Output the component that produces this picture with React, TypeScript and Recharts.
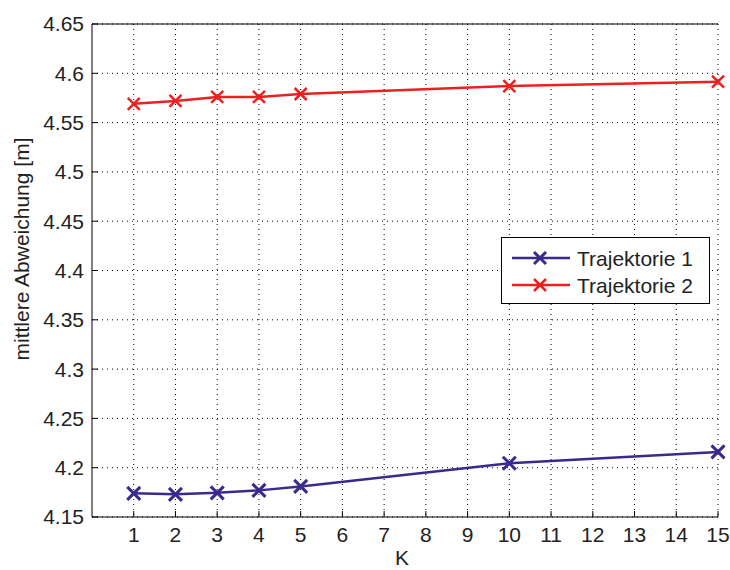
import { LineChart, Line, XAxis, YAxis, CartesianGrid } from 'recharts';

const kValues = [1, 2, 3, 4, 5, 10, 15];
const trajektorie1 = [4.174, 4.173, 4.1745, 4.177, 4.181, 4.2045, 4.216];
const trajektorie2 = [4.569, 4.572, 4.576, 4.576, 4.579, 4.587, 4.5915];
const xTicks = [1, 2, 3, 4, 5, 6, 7, 8, 9, 10, 11, 12, 13, 14, 15];
const yTicks = [4.15, 4.2, 4.25, 4.3, 4.35, 4.4, 4.45, 4.5, 4.55, 4.6, 4.65];
const seriesNames = ['Trajektorie 1', 'Trajektorie 2'];

const BLUE = '#3a2a8e';
const RED = '#ec2020';
const FONT = '"Liberation Sans", Arial, sans-serif';
const TEXT = '#222';

const data = kValues.map((k, i) => ({ k, t1: trajektorie1[i], t2: trajektorie2[i] }));

const Cross = (color: string, s: number, w: number) => (props: any) => {
  const { cx, cy, index } = props;
  if (cx == null || cy == null) return null;
  return (
    <g key={`c-${index}`}>
      <line x1={cx - s} y1={cy - s} x2={cx + s} y2={cy + s} stroke={color} strokeWidth={w} />
      <line x1={cx - s} y1={cy + s} x2={cx + s} y2={cy - s} stroke={color} strokeWidth={w} />
    </g>
  );
};

// legend drawn as an overlay, like matlab's box inside the axes
const LegendBox = () => {
  const colors = [BLUE, RED];
  return (
    <svg width={209} height={67} style={{ position: 'absolute', left: 501, top: 237 }}>
      <rect x={0.5} y={0.5} width={208} height={66} fill="#fff" stroke="#000" />
      {seriesNames.map((name, i) => {
        const cy = 21 + i * 27;
        return (
          <g key={name}>
            <line x1={11} y1={cy} x2={69} y2={cy} stroke={colors[i]} strokeWidth={2.5} />
            <line x1={33} y1={cy - 6} x2={45} y2={cy + 6} stroke={colors[i]} strokeWidth={i === 0 ? 3 : 2.5} />
            <line x1={33} y1={cy + 6} x2={45} y2={cy - 6} stroke={colors[i]} strokeWidth={i === 0 ? 3 : 2.5} />
            <text x={76} y={cy} dominantBaseline="central" fontFamily={FONT} fontSize={21} fill={TEXT}>{name}</text>
          </g>
        );
      })}
    </svg>
  );
};

export default function App() {
  const tickStyle = { fontFamily: FONT, fontSize: 21, fill: TEXT };
  return (
    <div style={{ position: 'absolute', left: 0, top: 0, width: 730, height: 570, background: '#fff' }}>
      <LineChart width={730} height={570} data={data} margin={{ top: 0, right: 12, left: 0, bottom: 0 }}>
        <CartesianGrid stroke="#000" strokeDasharray="1 4" horizontalValues={yTicks} verticalValues={xTicks} />
        <XAxis
          dataKey="k"
          type="number"
          domain={[0, 15]}
          ticks={xTicks}
          interval={0}
          height={53}
          tickSize={-6}
          tickMargin={16}
          stroke="#000"
          tick={tickStyle}
          label={{
            content: () => (
              <text x={402} y={565} textAnchor="middle" fontFamily={FONT} fontSize={21} fill={TEXT}>K</text>
            ),
          }}
        />
        <XAxis xAxisId="top" orientation="top" type="number" dataKey="k" domain={[0, 15]} ticks={xTicks} height={24} tickSize={-6} tick={false} stroke="#000" />
        <YAxis
          type="number"
          domain={[4.15, 4.65]}
          ticks={yTicks}
          interval={0}
          width={92}
          tickSize={-6}
          tickMargin={14}
          stroke="#000"
          tick={tickStyle}
          tickFormatter={(v: number) => String(+v.toFixed(2))}
          label={{
            content: () => (
              <text x={21} y={249} transform="rotate(-90 21 249)" textAnchor="middle" dominantBaseline="central" fontFamily={FONT} fontSize={21} fill={TEXT}>
                mittlere Abweichung [m]
              </text>
            ),
          }}
        />
        <YAxis yAxisId="right" orientation="right" type="number" domain={[4.15, 4.65]} ticks={yTicks} width={0} tickSize={-6} tick={false} stroke="#000" />
        <Line type="linear" dataKey="t1" stroke={BLUE} strokeWidth={2.5} dot={Cross(BLUE, 6.5, 3)} activeDot={false} isAnimationActive={false} />
        <Line type="linear" dataKey="t2" stroke={RED} strokeWidth={2.5} dot={Cross(RED, 6, 2.5)} activeDot={false} isAnimationActive={false} />
      </LineChart>
      <LegendBox />
    </div>
  );
}
